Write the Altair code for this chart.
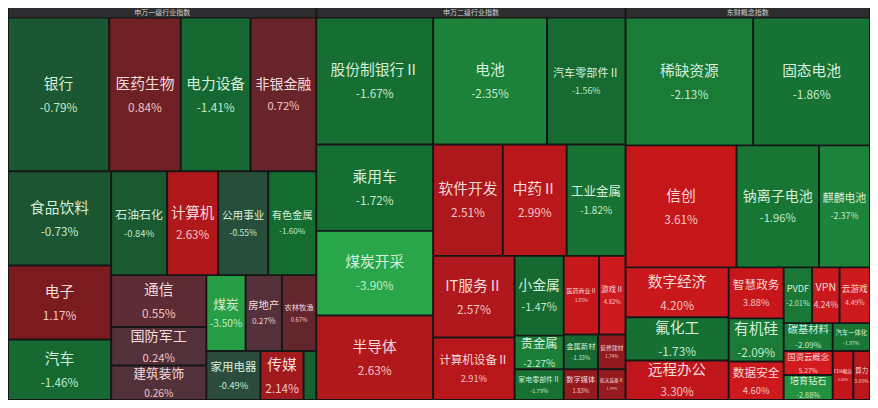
import altair as alt
import pandas as pd

# ---------------- data ----------------
panel_titles = ["申万一级行业指数", "申万二级行业指数", "东财概念指数"]

# 申万一级
p1_names = ["银行", "医药生物", "电力设备", "非银金融", "食品饮料", "电子", "汽车",
            "石油石化", "计算机", "公用事业", "有色金属", "通信", "国防军工", "建筑装饰",
            "煤炭", "房地产", "农林牧渔", "家用电器", "传媒", "美容护理"]
p1_pct = [-0.79, 0.84, -1.41, 0.72, -0.73, 1.17, -1.46,
          -0.84, 2.63, -0.55, -1.60, 0.55, 0.24, 0.26,
          -3.50, 0.27, 0.67, -0.49, 2.14, -1.20]
p1_weight = [164.8, 116.8, 113.6, 107.2, 102.9, 80.9, 66.2,
             61.6, 56.2, 55.1, 52.9, 52.4, 38.8, 34.9,
             31.6, 29.2, 27.7, 28.1, 22.4, 6.6]

# 申万二级
p2_names = ["股份制银行Ⅱ", "电池", "汽车零部件Ⅱ", "乘用车", "煤炭开采", "半导体",
            "软件开发", "中药Ⅱ", "工业金属", "IT服务Ⅱ", "计算机设备Ⅱ",
            "小金属", "贵金属", "家电零部件Ⅱ", "医药商业Ⅱ", "游戏Ⅱ",
            "金属新材", "装修建材", "数字媒体", "航天装备Ⅱ"]
p2_pct = [-1.67, -2.35, -1.56, -1.72, -3.90, 2.63,
          2.51, 2.99, -1.82, 2.57, 2.91,
          -1.47, -2.27, -1.79, 3.85, 4.82,
          -1.33, 1.74, 1.83, 1.79]
p2_weight = [157.1, 153.1, 105.6, 107.1, 104.7, 104.7,
             82.4, 75.4, 69.6, 70.6, 54.0,
             41.5, 17.5, 16.0, 29.5, 22.1,
             12.6, 10.1, 11.2, 9.0]

# 东财概念
p3_names = ["稀缺资源", "固态电池", "信创", "钠离子电池", "麒麟电池",
            "数字经济", "氟化工", "远程办公", "智慧政务", "有机硅", "数据安全",
            "PVDF", "VPN", "云游戏", "碳基材料", "国资云概念", "培育钻石",
            "汽车一体化", "EDA概念", "算力"]
p3_pct = [-2.13, -1.86, 3.61, -1.96, -2.37,
          4.20, -1.73, 3.30, 3.88, -2.09, 4.60,
          -2.01, 4.24, 4.49, -2.09, 5.27, -2.88,
          -1.97, 3.50, 3.00]
p3_weight = [172.9, 158.3, 143.5, 106.7, 66.0,
             54.6, 47.3, 43.1, 29.7, 25.2, 22.4,
             16.8, 16.2, 18.0, 14.5, 12.5, 13.0,
             11.0, 10.7, 8.7]

# hierarchy (H = side by side, V = stacked)
tree1 = ("V", [("H", ["银行", "医药生物", "电力设备", "非银金融"]),
               ("H", [("V", ["食品饮料", "电子", "汽车"]),
                      ("V", [("H", ["石油石化", "计算机", "公用事业", "有色金属"]),
                             ("H", [("V", ["通信", "国防军工", "建筑装饰"]),
                                    ("V", [("H", ["煤炭", "房地产", "农林牧渔"]),
                                           ("H", ["家用电器", "传媒", "美容护理"])])])])])])
tree2 = ("V", [("H", ["股份制银行Ⅱ", "电池", "汽车零部件Ⅱ"]),
               ("H", [("V", ["乘用车", "煤炭开采", "半导体"]),
                      ("V", [("H", ["软件开发", "中药Ⅱ", "工业金属"]),
                             ("H", [("V", ["IT服务Ⅱ", "计算机设备Ⅱ"]),
                                    ("V", ["小金属", "贵金属", "家电零部件Ⅱ"]),
                                    ("V", [("H", ["医药商业Ⅱ", "游戏Ⅱ"]),
                                           ("H", ["金属新材", "装修建材"]),
                                           ("H", ["数字媒体", "航天装备Ⅱ"])])])])])])
tree3 = ("V", [("H", ["稀缺资源", "固态电池"]),
               ("H", ["信创", "钠离子电池", "麒麟电池"]),
               ("H", [("V", ["数字经济", "氟化工", "远程办公"]),
                      ("V", ["智慧政务", "有机硅", "数据安全"]),
                      ("V", [("H", ["PVDF", "VPN", "云游戏"]),
                             ("H", [("V", ["碳基材料", "国资云概念", "培育钻石"]),
                                    ("V", ["汽车一体化", ("H", ["EDA概念", "算力"])])])])])])

# ---------------- layout ----------------
W_REF, H_REF, HEAD = 878.0, 408.0, 10.0
W_PX, H_PX = 862, 392
S = W_PX / W_REF

names = p1_names + p2_names + p3_names
pcts = p1_pct + p2_pct + p3_pct
weights = p1_weight + p2_weight + p3_weight
wmap = dict(zip(names, weights))
pmap = dict(zip(names, pcts))


def wsum(node):
    if isinstance(node, str):
        return wmap[node]
    return sum(wsum(k) for k in node[1])


def split(node, x0, y0, x1, y1, out):
    if isinstance(node, str):
        out[node] = (x0, y0, x1, y1)
        return
    d, kids = node
    ws = [wsum(k) for k in kids]
    tot = sum(ws)
    pos = x0 if d == "H" else y0
    for k, w in zip(kids, ws):
        if d == "H":
            nxt = pos + (x1 - x0) * w / tot
            split(k, pos, y0, nxt, y1, out)
        else:
            nxt = pos + (y1 - y0) * w / tot
            split(k, x0, pos, x1, nxt, out)
        pos = nxt


rects = {}
trees = [tree1, tree2, tree3]
tw = [wsum(t) for t in trees]
panel_bounds = []
px = 0.0
for t, w in zip(trees, tw):
    nx = px + W_REF * w / sum(tw)
    split(t, px, HEAD, nx, H_REF, rects)
    panel_bounds.append((px, nx))
    px = nx


def units(s, latin=0.6):
    return sum(latin if ord(c) < 128 else 1.0 for c in s)


rows = []
for n in names:
    x0, y0, x1, y1 = rects[n]
    w, h = x1 - x0, y1 - y0
    p = pmap[n]
    ptxt = f"{p:.2f}%"
    fs = min(15.0, 0.85 * w / units(n), 0.36 * h, 0.9 * w / (0.8 * units(ptxt, 0.58)))
    fs_px = fs * S
    cy = (y0 + y1) / 2
    pos = p > 0
    rows.append(dict(
        name=n, pct=p, ptxt=ptxt,
        x=x0 + 1, x2=x1 - 1, y=y0 + 1, y2=y1 - 1,
        cx=(x0 + x1) / 2, ny=cy - 0.68 * fs, py=cy + 0.92 * fs,
        fs=fs_px, pfs=fs_px * 0.8,
        nc="#f5dada" if pos else "#d6efdb",
        pc="#f3c5c5" if pos else "#c3e9cb",
    ))
df = pd.DataFrame(rows)

head_df = pd.DataFrame(dict(
    title=panel_titles,
    x=[b[0] + 1 for b in panel_bounds],
    x2=[b[1] - 1 for b in panel_bounds],
    cx=[(b[0] + b[1]) / 2 for b in panel_bounds],
    y=[0.0] * 3, y2=[HEAD - 0.5] * 3, ty=[HEAD / 2] * 3,
))

xs = alt.Scale(domain=[0, W_REF], nice=False, zero=False)
ys = alt.Scale(domain=[0, H_REF], nice=False, zero=False, reverse=True)

cscale = alt.Scale(
    type="linear",
    domain=[-4.0, -3.0, -2.2, -1.6, -1.0, -0.7, -0.45, 0.0, 0.25, 0.55, 0.8, 1.2, 2.0, 2.6, 3.5, 5.3],
    range=["#2aa84b", "#23943f", "#1b7d38", "#156c31", "#165f30", "#1d5432", "#2e4a3d", "#403a3c",
           "#53313a", "#5c2b33", "#6c2024", "#7d1b1e", "#9c1a1e", "#b0181c", "#c4161a", "#d21b1f"],
)

base = alt.Chart(df)
cells = base.mark_rect().encode(
    x=alt.X("x:Q", scale=xs, axis=None),
    x2="x2:Q",
    y=alt.Y("y:Q", scale=ys, axis=None),
    y2="y2:Q",
    color=alt.Color("pct:Q", scale=cscale, legend=None),
)
FONT = "Noto Sans CJK SC"
name_txt = base.transform_filter("datum.fs >= 4").mark_text(font=FONT, baseline="middle", align="center").encode(
    x=alt.X("cx:Q", scale=xs, axis=None),
    y=alt.Y("ny:Q", scale=ys, axis=None),
    text="name:N",
    size=alt.Size("fs:Q", scale=None, legend=None),
    color=alt.Color("nc:N", scale=None, legend=None),
)
pct_txt = base.transform_filter("datum.fs >= 4").mark_text(font=FONT, baseline="middle", align="center").encode(
    x=alt.X("cx:Q", scale=xs, axis=None),
    y=alt.Y("py:Q", scale=ys, axis=None),
    text="ptxt:N",
    size=alt.Size("pfs:Q", scale=None, legend=None),
    color=alt.Color("pc:N", scale=None, legend=None),
)
hb = alt.Chart(head_df)
head_rect = hb.mark_rect(color="#2d2d2f").encode(
    x=alt.X("x:Q", scale=xs, axis=None), x2="x2:Q",
    y=alt.Y("y:Q", scale=ys, axis=None), y2="y2:Q",
)
head_txt = hb.mark_text(font=FONT, fontSize=7, color="#cfcfcf", baseline="middle").encode(
    x=alt.X("cx:Q", scale=xs, axis=None),
    y=alt.Y("ty:Q", scale=ys, axis=None),
    text="title:N",
)

chart = alt.layer(cells, head_rect, name_txt, pct_txt, head_txt).properties(
    width=W_PX, height=H_PX, padding=0, background="#161616",
    autosize=alt.AutoSizeParams(type="none"),
).configure_view(stroke=None)

chart.save("out.html", embed_options={"renderer": "svg", "actions": False})
